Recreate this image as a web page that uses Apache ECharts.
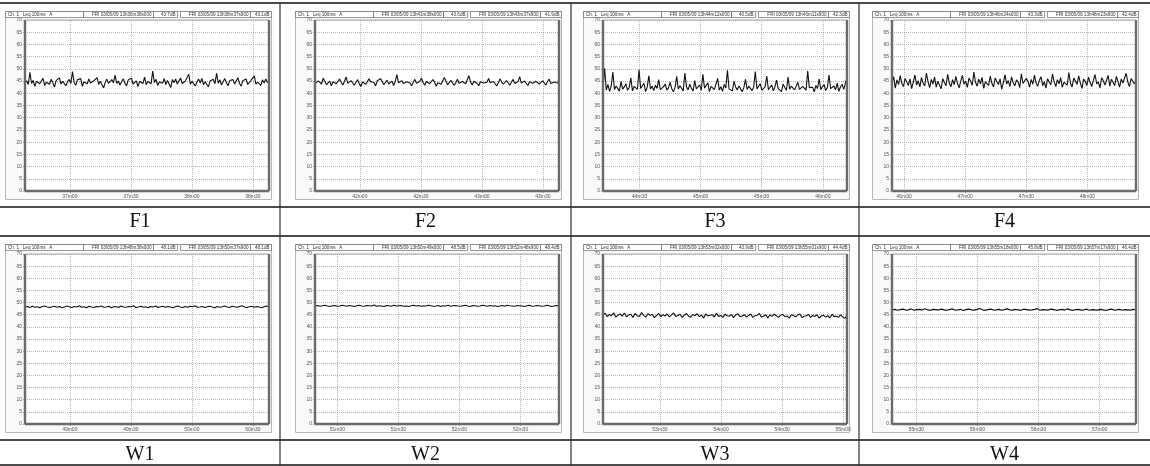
<!DOCTYPE html>
<html>
<head>
<meta charset="utf-8">
<style>
html, body { margin: 0; padding: 0; background: #fff; }
#chart { width: 1150px; height: 466px; }
</style>
<script src="https://cdn.jsdelivr.net/npm/echarts@6/dist/echarts.min.js"></script>
</head>
<body>
<div id="chart"></div>
<script>
// Panel names, shown in the row under each chart
const panelNames = ['F1', 'F2', 'F3', 'F4', 'W1', 'W2', 'W3', 'W4'];

// Start of each record in seconds after 13h00m00s (each record lasts 119.9 s)
const startSeconds = [2198, 2498, 2652, 2784, 2918, 3049, 3182, 3318];
const recordLength = 119.9;

// Header texts
const startStamps = ['13h36m38s000', '13h41m38s000', '13h44m12s000', '13h46m24s000',
                     '13h48m38s000', '13h50m49s000', '13h53m02s000', '13h55m18s000'];
const endStamps = ['13h38m37s900', '13h43m37s900', '13h46m11s900', '13h48m23s900',
                   '13h50m37s900', '13h52m48s900', '13h55m01s900', '13h57m17s900'];
const startLevels = ['43.7', '43.6', '40.5', '43.3', '48.1', '48.5', '43.9', '45.8'];
const endLevels = ['43.1', '41.9', '42.3', '42.4', '48.1', '48.4', '44.4', '46.4'];

// x tick labels of every panel
const tickLabels = [
    ['37m00', '37m30', '38m00', '38m30'],
    ['42m00', '42m30', '43m00', '43m30'],
    ['44m30', '45m00', '45m30', '46m00'],
    ['46m30', '47m00', '47m30', '48m00'],
    ['49m00', '49m30', '50m00', '50m30'],
    ['51m00', '51m30', '52m00', '52m30'],
    ['53m30', '54m00', '54m30', '55m00'],
    ['55m30', '56m00', '56m30', '57m00']
];

// y axis
const levelMin = 0;
const levelMax = 70;
const levelStep = 5;

// Leq 100ms traces (dB)
const f1Levels = [
    44.2,45.1,43.6,48.6,44.0,45.3,42.8,44.9,45.6,43.9,44.7,46.1,43.2,44.5,45.0,
    43.7,45.8,44.3,42.5,45.2,44.6,46.3,43.8,44.9,45.4,43.1,44.8,45.7,44.0,48.9,
    44.4,43.3,45.5,44.7,46.0,42.9,44.6,45.3,43.9,45.9,44.2,43.5,45.1,44.8,46.4,
    43.6,44.9,45.2,42.2,44.5,45.8,44.1,43.7,45.6,44.3,47.4,44.0,45.0,43.4,44.7,
    45.9,44.2,43.0,45.4,44.8,46.2,43.8,44.6,45.1,42.7,44.9,45.5,44.0,46.6,43.5,
    44.8,45.3,43.9,49.1,44.4,45.7,43.2,44.6,45.0,44.1,46.0,43.6,45.2,44.7,42.4,
    45.6,44.3,45.9,43.8,44.5,46.3,44.0,43.3,45.1,44.8,47.8,43.7,44.9,45.4,43.0,
    44.6,45.8,44.2,46.1,43.5,44.7,45.3,42.6,45.0,44.4,45.7,43.9,48.2,44.1,45.5,
    43.4,44.8,46.0,44.3,43.1,45.2,44.9,45.6,43.8,44.5,46.4,44.0,42.9,45.1,44.7,
    45.9,43.6,44.4,45.3,44.8,47.1,43.7,44.6,45.0,43.2,45.5,44.2,45.8,44.5,44.9
];
const f2Levels = [
    44.0,43.2,45.1,44.6,43.8,46.2,44.9,43.5,44.3,45.0,43.1,44.7,45.4,43.9,44.2,
    45.8,44.5,43.4,44.9,46.7,44.1,43.6,45.2,44.8,43.3,44.4,45.6,44.0,42.8,44.6,
    45.3,43.7,44.2,45.9,44.7,43.9,44.4,43.0,45.1,44.3,46.0,44.8,43.5,44.1,45.4,
    43.8,44.6,45.0,43.2,44.9,47.6,44.3,43.6,45.2,44.0,43.4,44.7,45.5,44.2,43.1,
    44.5,45.7,44.1,43.8,44.9,46.3,44.4,43.3,44.8,45.1,43.9,44.2,45.6,44.6,42.9,
    44.3,45.0,43.7,44.5,46.5,44.9,43.5,44.0,45.3,44.7,43.2,44.4,45.8,44.1,43.6,
    44.8,45.2,43.9,44.3,47.2,44.6,43.4,44.9,45.5,44.0,43.1,44.7,45.1,44.2,43.8,
    44.5,46.1,44.3,43.6,44.8,45.4,43.0,44.4,45.9,44.6,43.7,44.1,45.2,44.9,43.3,
    44.6,45.7,44.0,43.5,44.8,46.8,44.2,43.9,45.0,44.4,43.2,44.7,45.3,44.1,43.6,
    44.9,45.6,43.8,44.3,45.1,44.5,43.4,44.8,45.8,44.0,43.7,44.6,45.2,44.3,43.9
];
const f3Levels = [
    42.1,50.2,41.3,43.6,40.8,42.9,48.7,41.5,43.0,42.2,40.9,44.8,41.7,42.6,43.9,
    41.2,42.4,46.3,41.0,42.8,43.5,41.6,49.6,42.0,41.4,44.1,40.7,42.5,47.2,41.8,
    42.9,41.1,43.3,42.0,45.6,41.5,40.8,42.7,43.8,41.3,42.2,44.6,41.9,40.6,42.4,
    46.9,41.7,43.1,42.3,41.0,48.3,42.6,41.4,43.7,42.0,40.9,45.2,41.8,42.5,43.4,
    41.2,47.8,42.1,41.6,44.3,40.7,42.8,43.2,41.5,42.0,46.1,41.3,42.7,40.8,43.6,
    42.2,49.4,41.7,42.4,41.0,44.9,42.6,41.4,43.0,41.9,40.6,42.3,45.7,41.6,42.9,
    43.3,41.1,42.5,48.9,41.8,42.0,43.9,41.3,40.8,42.6,47.0,41.5,42.2,43.4,41.0,
    42.7,45.4,41.9,42.1,40.7,43.8,42.4,41.2,46.6,41.7,42.9,43.1,41.4,42.0,44.5,
    41.6,40.9,42.8,43.5,41.3,49.1,42.3,41.8,42.5,40.6,43.2,42.0,45.9,41.5,42.7,
    43.6,41.1,42.4,47.5,41.9,42.2,43.0,41.4,44.2,40.8,42.6,43.7,41.6,42.1,46.4
];
const f4Levels = [
    44.3,46.8,42.1,45.5,43.6,47.2,44.0,42.8,46.1,44.7,43.2,45.9,41.9,44.6,47.5,
    43.4,45.2,42.6,46.4,44.1,43.0,48.3,44.8,42.3,45.7,43.8,46.6,42.5,44.9,45.3,
    41.8,46.0,44.4,43.1,47.8,44.2,42.7,45.6,43.5,46.9,44.0,42.2,45.1,47.3,43.7,
    44.9,42.4,46.2,45.0,43.3,48.7,44.5,42.9,45.8,43.9,46.5,42.0,44.7,45.4,43.2,
    47.0,44.1,42.6,46.3,44.8,43.6,45.9,41.7,44.4,47.6,43.8,45.2,42.8,46.7,44.3,
    43.0,45.5,44.6,42.3,48.0,44.0,43.4,46.1,44.9,42.5,45.7,43.7,47.4,44.2,42.9,
    45.3,46.8,43.1,44.7,42.1,46.0,44.5,43.5,47.9,44.8,42.7,45.6,43.9,46.4,42.4,
    44.6,45.1,43.3,48.5,44.1,42.6,46.2,45.0,43.6,47.1,44.3,42.0,45.8,44.9,43.2,
    46.6,44.4,42.8,45.4,47.7,43.8,44.7,42.2,46.3,45.2,43.4,44.0,47.3,42.9,45.7,
    44.5,43.1,46.9,44.8,42.5,45.9,44.2,43.7,48.2,44.6,42.7,46.0,45.3,43.9,44.9
];
const w1Levels = [
    48.2,48.4,48.0,48.5,48.1,48.3,47.9,48.4,48.6,48.2,48.0,48.3,48.5,48.1,48.4,
    47.9,48.2,48.6,48.3,48.0,48.4,48.2,48.7,48.1,48.3,47.9,48.5,48.2,48.0,48.4,
    48.3,48.6,48.1,48.2,48.5,47.9,48.3,48.4,48.0,48.6,48.2,48.1,48.4,48.3,48.7,
    48.0,48.2,48.5,48.1,48.3,47.9,48.4,48.2,48.6,48.0,48.3,48.5,48.1,48.4,48.2,
    47.9,48.3,48.6,48.2,48.0,48.4,48.1,48.5,48.3,48.7,48.1,48.2,48.4,48.0,48.3,
    48.5,48.2,47.9,48.4,48.1,48.3,48.6,48.2,48.0,48.5,48.3,48.1,48.4,48.7,48.2,
    48.0,48.3,48.5,48.1,48.4,48.2,47.9,48.3,48.6,48.2
];
const w2Levels = [
    48.6,48.8,48.5,48.7,48.9,48.6,48.4,48.7,48.8,48.5,48.6,48.9,48.7,48.5,48.8,
    48.6,48.4,48.7,48.9,48.6,48.5,48.8,48.7,48.6,49.0,48.5,48.7,48.6,48.4,48.8,
    48.7,48.5,48.9,48.6,48.7,48.8,48.5,48.6,48.4,48.7,48.9,48.6,48.8,48.5,48.7,
    48.6,48.9,48.7,48.5,48.6,48.8,48.4,48.7,48.6,48.9,48.5,48.7,48.8,48.6,48.5,
    48.7,48.9,48.6,48.4,48.8,48.7,48.5,48.6,48.9,48.7,48.5,48.8,48.6,48.7,48.4,
    48.6,48.8,48.5,48.9,48.7,48.6,48.5,48.8,48.7,48.6,48.4,48.7,48.9,48.5,48.6,
    48.8,48.7,48.5,48.6,48.9,48.7,48.4,48.6,48.8,48.7
];
const w3Levels = [
    44.9,45.6,44.2,45.1,44.6,45.8,44.0,44.8,45.3,44.4,45.7,44.1,44.9,45.2,43.9,
    45.5,44.6,44.3,45.9,44.7,44.0,45.4,44.8,45.1,43.8,44.6,45.6,44.2,45.0,44.5,
    45.3,44.1,44.9,45.7,44.3,44.7,45.2,43.9,44.8,45.5,44.4,44.0,45.1,44.6,45.4,
    44.2,44.9,43.7,45.3,44.5,44.8,45.0,44.1,45.6,44.3,44.7,43.9,45.2,44.6,44.4,
    45.1,43.8,44.9,45.4,44.2,44.5,45.0,44.0,44.7,45.3,43.9,44.6,44.8,45.5,44.1,
    44.4,45.0,43.7,44.9,44.3,45.2,44.6,43.9,44.8,45.1,44.2,44.5,43.6,45.0,44.7,
    44.1,44.9,45.3,43.8,44.4,44.6,45.1,43.9,44.7,44.3,45.0,43.6,44.5,44.8,44.0,
    44.6,43.7,45.2,44.2,44.4,43.9,44.9,44.1,43.5,44.6
];
const w4Levels = [
    47.0,47.2,46.8,47.1,47.3,46.9,47.0,47.4,46.8,47.1,47.2,46.9,47.5,47.0,46.8,
    47.2,47.1,46.9,47.3,47.0,46.8,47.1,47.4,46.9,47.0,47.2,46.7,47.1,47.3,47.0,
    46.9,47.2,47.6,47.0,46.8,47.1,47.3,46.9,47.0,47.2,46.8,47.1,47.4,47.0,46.9,
    47.2,47.0,46.8,47.3,47.1,46.9,47.0,47.2,47.5,46.8,47.1,47.0,46.9,47.3,47.1,
    46.8,47.0,47.2,46.9,47.4,47.0,46.8,47.1,47.2,46.9,47.0,47.3,46.8,47.1,47.0,
    46.9,47.2,47.0,46.7,47.1,47.3,46.9,47.0,47.2,46.8,47.1,47.0,46.9,47.2,47.0
];
const panelLevels = [f1Levels, f2Levels, f3Levels, f4Levels, w1Levels, w2Levels, w3Levels, w4Levels];

// "37m30" -> seconds after 13h00
function parseTick(label) {
    const m = label.match(/(\d+)m(\d+)/);
    return Number(m[1]) * 60 + Number(m[2]);
}
function formatTick(sec) {
    const m = Math.floor(sec / 60);
    const s = Math.round(sec - m * 60);
    return m + 'm' + (s < 10 ? '0' + s : s);
}

// page layout
const colEdges = [0, 280, 571, 859, 1150];
const rowLines = [3, 207, 236, 440, 465];
const boxX = [5, 295, 583, 872];
const boxY = [11, 244];
const boxW = 266;
const boxH = 188;
const plotTop = [20, 254];
const plotH = [171, 170];
const plotW = 244;

const smallFont = '"Liberation Sans", Arial, sans-serif';

const grids = [];
const xAxes = [];
const yAxes = [];
const series = [];
const graphics = [];

panelNames.forEach((name, k) => {
    const col = k % 4;
    const row = Math.floor(k / 4);
    const bx = boxX[col];
    const by = boxY[row];
    const pl = bx + 20;
    const pt = plotTop[row];
    const ph = plotH[row];
    const ticks = tickLabels[k].map(parseTick);
    const start = startSeconds[k];
    const levels = panelLevels[k];
    const step = recordLength / (levels.length - 1);

    grids.push({ left: pl, top: pt, width: plotW, height: ph, show: false });

    xAxes.push({
        type: 'value',
        gridIndex: k,
        min: start,
        max: start + recordLength,
        axisLine: { show: false },
        axisTick: { show: true, customValues: ticks, length: 2, lineStyle: { color: '#777', width: 0.6 } },
        axisLabel: {
            customValues: ticks,
            formatter: formatTick,
            fontSize: 5,
            color: '#555',
            margin: 3,
            fontFamily: smallFont
        },
        splitLine: { show: true, lineStyle: { color: '#8a8a8a', width: 0.6, type: [1, 1] } }
    });

    yAxes.push({
        type: 'value',
        gridIndex: k,
        min: levelMin,
        max: levelMax,
        interval: levelStep,
        axisLine: { show: false },
        axisTick: { show: true, length: 2, lineStyle: { color: '#777', width: 0.6 } },
        axisLabel: { fontSize: 5, color: '#555', margin: 3, fontFamily: smallFont },
        splitLine: { show: true, lineStyle: { color: '#8a8a8a', width: 0.6, type: [1, 1] } }
    });

    series.push({
        type: 'line',
        xAxisIndex: k,
        yAxisIndex: k,
        showSymbol: false,
        silent: true,
        animation: false,
        lineStyle: { color: '#111', width: 1.1 },
        data: levels.map((v, i) => [start + i * step, v])
    });

    // panel frame and plot background
    graphics.push({
        type: 'rect', z: -10, z2: 0,
        shape: { x: bx + 0.5, y: by + 0.5, width: boxW, height: boxH },
        style: { fill: '#f9f9f9', stroke: '#b8b8b8', lineWidth: 1 }
    });
    graphics.push({
        type: 'rect', z: -10, z2: 1,
        shape: { x: pl, y: pt, width: plotW, height: ph },
        style: { fill: '#ffffff' }
    });

    // thick plot border: left, bottom, right; thin top
    const pr = pl + plotW;
    const pb = pt + ph;
    [[pl, pt, pl, pb], [pl, pb, pr, pb], [pr, pt, pr, pb]].forEach(s => {
        graphics.push({
            type: 'line', z: 10,
            shape: { x1: s[0], y1: s[1], x2: s[2], y2: s[3] },
            style: { stroke: '#6a6a6a', lineWidth: 2.4 }
        });
    });
    graphics.push({
        type: 'line', z: 10,
        shape: { x1: pl, y1: pt, x2: pr, y2: pt },
        style: { stroke: '#9a9a9a', lineWidth: 0.8 }
    });

    // header bar
    const cells = [
        [0, 78, 'Ch. 1   Leq 100ms   A', 'left'],
        [78, 148, 'FRI 03/05/09 ' + startStamps[k], 'right'],
        [148, 172, startLevels[k] + 'dB', 'right'],
        [175, 245, 'FRI 03/05/09 ' + endStamps[k], 'right'],
        [245, 266, endLevels[k] + 'dB', 'right']
    ];
    cells.forEach(c => {
        graphics.push({
            type: 'rect', z: 10,
            shape: { x: bx + c[0] + 0.5, y: by + 0.5, width: c[1] - c[0], height: 6 },
            style: { fill: '#ffffff', stroke: '#555', lineWidth: 0.6 }
        });
        graphics.push({
            type: 'text', z: 11,
            x: c[3] === 'left' ? bx + c[0] + 3 : bx + c[1] - 1.5,
            y: by + 4,
            style: {
                text: c[2], fontSize: 4.6, fill: '#333', fontFamily: smallFont,
                align: c[3], verticalAlign: 'middle'
            }
        });
    });

    // panel name in the row below
    graphics.push({
        type: 'text', z: 10,
        x: (colEdges[col] + colEdges[col + 1]) / 2,
        y: row === 0 ? 222 : 455,
        style: {
            text: name, fontSize: 20, fill: '#111',
            fontFamily: '"Liberation Serif", "Times New Roman", serif',
            align: 'center', verticalAlign: 'middle'
        }
    });
});

// table rules
rowLines.forEach(y => {
    graphics.push({
        type: 'line', z: 12,
        shape: { x1: 0, y1: y, x2: 1150, y2: y },
        style: { stroke: '#111', lineWidth: 1.4 }
    });
});
colEdges.slice(1, 4).forEach(x => {
    graphics.push({
        type: 'line', z: 12,
        shape: { x1: x, y1: rowLines[0], x2: x, y2: 466 },
        style: { stroke: '#333', lineWidth: 1.2 }
    });
});

const chart = echarts.init(document.getElementById('chart'), null, { renderer: 'canvas' });
chart.setOption({
    animation: false,
    backgroundColor: '#ffffff',
    grid: grids,
    xAxis: xAxes,
    yAxis: yAxes,
    series: series,
    graphic: { elements: graphics }
});
</script>
</body>
</html>
